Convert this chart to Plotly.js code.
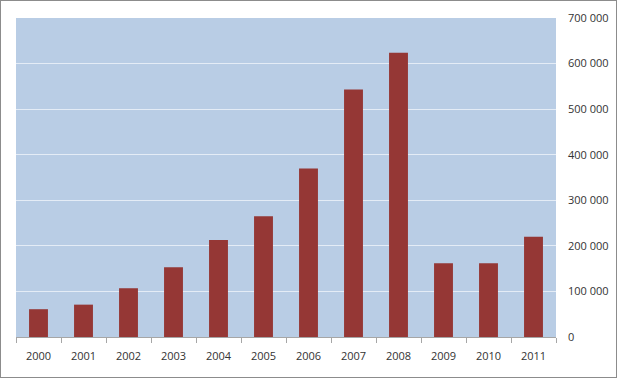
<!DOCTYPE html>
<html>
<head>
<meta charset="utf-8">
<script src="https://cdn.plot.ly/plotly-3.0.1.min.js"></script>
<style>
html,body{margin:0;padding:0;background:#fff;}
#wrap{position:relative;width:617px;height:378px;}
#chart{width:617px;height:378px;}
#frame{position:absolute;left:0;top:0;width:617px;height:378px;box-sizing:border-box;border:1px solid #8c8c8c;pointer-events:none;}
</style>
</head>
<body>
<div id="wrap"><div id="chart"></div><div id="frame"></div></div>
<script>
const years = ['2000','2001','2002','2003','2004','2005','2006','2007','2008','2009','2010','2011'];
const values = [61000, 71000, 107000, 153000, 213000, 265000, 370000, 543000, 624000, 162000, 162000, 220000];
const yTicks = [0, 100000, 200000, 300000, 400000, 500000, 600000, 700000];

const traces = [{
  type: 'bar',
  x: years,
  y: values,
  marker: {color: '#953735', line: {width: 0}},
  hoverinfo: 'none'
}];

const layout = {
  width: 617,
  height: 378,
  margin: {l: 16, r: 61, t: 18, b: 41},
  paper_bgcolor: '#ffffff',
  plot_bgcolor: '#b9cde5',
  bargap: 0.58,
  separators: '. ',
  showlegend: false,
  font: {family: 'Open Sans, sans-serif', size: 11, color: '#333333'},
  xaxis: {
    type: 'category',
    showgrid: false,
    showline: true,
    linecolor: '#a6a6a6',
    linewidth: 1,
    ticks: 'outside',
    tickson: 'boundaries',
    ticklen: 5,
    tickcolor: '#a6a6a6',
    ticklabelstandoff: 9,
    tickfont: {size: 11, color: '#333333'},
    zeroline: false
  },
  yaxis: {
    side: 'right',
    range: [0, 700000],
    tickvals: yTicks,
    tickformat: ',d',
    showgrid: true,
    gridcolor: '#e4ecf6',
    gridwidth: 1,
    showline: false,
    zeroline: false,
    ticks: '',
    ticklabelstandoff: 11,
    tickfont: {size: 11, color: '#333333'}
  },
  yaxis2: {
    overlaying: 'y',
    side: 'left',
    range: [0, 700000],
    tickvals: yTicks,
    showticklabels: false,
    showgrid: false,
    zeroline: false,
    showline: true,
    linecolor: '#a6a6a6',
    ticks: 'inside',
    ticklen: 4,
    tickcolor: '#a6a6a6'
  }
};

Plotly.newPlot('chart', traces, layout, {staticPlot: true, displayModeBar: false});
</script>
</body>
</html>
